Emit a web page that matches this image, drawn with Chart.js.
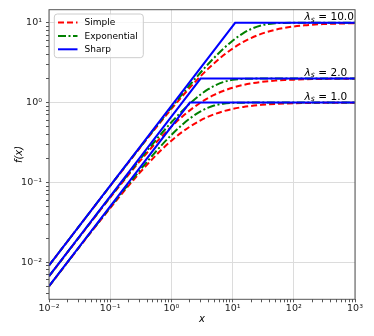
<!DOCTYPE html>
<html><head><meta charset="utf-8">
<script src="https://cdn.jsdelivr.net/npm/chart.js@4.4.0/dist/chart.umd.min.js"></script>
<style>html,body{margin:0;padding:0;background:#fff}#wrap{width:374px;height:336px;position:relative}</style>
</head><body><div id="wrap"><canvas id="c"></canvas></div>
<script>
// ---- data ----
const xValues = [0.01,0.03,0.1,0.2,0.3,0.5,0.7,1,1.5,2,3,4,5,7,10,15,20,30,50,70,100,150,200,300,500,700,1000];
const simple1 = [0.004975,0.01478,0.04762,0.09091,0.1304,0.2,0.2593,0.3333,0.4286,0.5,0.6,0.6667,0.7143,0.7778,0.8333,0.8824,0.9091,0.9375,0.9615,0.9722,0.9804,0.9868,0.9901,0.9934,0.996,0.9972,0.998];
const simple2 = [0.006645,0.0198,0.06452,0.125,0.1818,0.2857,0.3784,0.5,0.6667,0.8,1.0,1.1429,1.25,1.4,1.5385,1.6667,1.7391,1.8182,1.8868,1.9178,1.9417,1.9608,1.9704,1.9802,1.9881,1.9915,1.994];
const simple10 = [0.009083,0.0272,0.09009,0.1786,0.2655,0.4348,0.5983,0.8333,1.2,1.5385,2.1429,2.6667,3.125,3.8889,4.7619,5.7692,6.4516,7.3171,8.1967,8.642,9.009,9.3168,9.4787,9.6463,9.7847,9.8453,9.8912];
const exp1 = [0.004988,0.01489,0.04877,0.09516,0.1393,0.2212,0.2953,0.3935,0.5276,0.6321,0.7769,0.8647,0.9179,0.9698,0.9933,0.9994,0.99995,1,1,1,1,1,1,1,1,1,1];
const exp2 = [0.006656,0.0199,0.06557,0.129,0.1903,0.307,0.4162,0.5669,0.7869,0.9731,1.2642,1.4728,1.6222,1.806,1.9287,1.9865,1.9975,1.9999,2,2,2,2,2,2,2,2,2];
const exp10 = [0.009087,0.02724,0.0905,0.1802,0.269,0.4444,0.6165,0.869,1.2747,1.6625,2.387,3.0479,3.6525,4.7077,5.9711,7.4429,8.3768,9.346,9.8939,9.9828,9.9989,10,10,10,10,10,10];
const sharpX1 = [0.01,2,1000];   const sharpY1 = [0.005,1,1];
const sharpX2 = [0.01,3,1000];   const sharpY2 = [0.006667,2,2];
const sharpX10 = [0.01,11,1000]; const sharpY10 = [0.009091,10,10];
const seriesNames = ['Simple','Exponential','Sharp'];
const lambdas = [1,2,10];
const lambdaLabels = ['1.0','2.0','10.0'];
const annotX = 150;
const xTickValues = [0.01,0.1,1,10,100,1000];
const xTickLabels = ['10⁻²','10⁻¹','10⁰','10¹','10²','10³'];
const yTickValues = [0.01,0.1,1,10];
const yTickLabels = ['10⁻²','10⁻¹','10⁰','10¹'];
const xRange = [0.01,1000];
const yRange = [0.00342,14.62];
const xLabel = 'x';
const yLabel = 'f(x)';

// ---- styles ----
const FONT = 'DejaVu Sans';
const styles = {
  Simple: {color:'#ff0000', dash:[6,3]},
  Exponential: {color:'#008000', dash:[8,2.5,2,2.5]},
  Sharp: {color:'#0000ff', dash:[]}
};
const pts = (xs, ys) => xs.map((x,i)=>({x:x, y:ys[i]}));
function ds(name, data, order){
  const s = styles[name];
  return {label:name, data:data, borderColor:s.color, borderDash:s.dash, borderWidth:2,
    pointRadius:0, fill:false, order:order, cubicInterpolationMode: name==='Sharp'?'default':'monotone',
    tension:0, borderCapStyle:'butt'};
}
const datasets = [
  ds('Simple', pts(xValues, simple1), 3), ds('Exponential', pts(xValues, exp1), 2), ds('Sharp', pts(sharpX1, sharpY1), 1),
  ds('Simple', pts(xValues, simple2), 3), ds('Exponential', pts(xValues, exp2), 2), ds('Sharp', pts(sharpX2, sharpY2), 1),
  ds('Simple', pts(xValues, simple10), 3), ds('Exponential', pts(xValues, exp10), 2), ds('Sharp', pts(sharpX10, sharpY10), 1)
];

function logTicks(min, max){
  const t = [];
  for (let e = Math.floor(Math.log10(min)); e <= Math.ceil(Math.log10(max)); e++){
    for (let m = 1; m <= 9; m++){
      const v = parseFloat((m*Math.pow(10,e)).toPrecision(6));
      if (v >= min*0.9999 && v <= max*1.0001) t.push({value:v});
    }
  }
  return t;
}
function labelFor(v, vals, labels){
  for (let i=0;i<vals.length;i++) if (Math.abs(v/vals[i]-1) < 1e-6) return labels[i];
  return '';
}
const isMajor = v => Math.abs(Math.log10(v) - Math.round(Math.log10(v))) < 1e-6;

const overlay = {
  id:'overlay',
  afterDatasetsDraw(chart){
    const ctx = chart.ctx, a = chart.chartArea, xs = chart.scales.x, ys = chart.scales.y;
    ctx.save();
    // annotations (left-aligned at annotX)
    ctx.fillStyle = '#000';
    ctx.textBaseline = 'alphabetic';
    ctx.textAlign = 'left';
    const fN = '10.5px "'+FONT+'"', fL = 'italic 10.5px "'+FONT+'"', fS = 'italic 7.5px "'+FONT+'"';
    lambdas.forEach((lam,i)=>{
      const left = xs.getPixelForValue(annotX);
      const base = ys.getPixelForValue(lam*1.1) + 0.3;
      ctx.font = fL;
      const wL = ctx.measureText('λ').width;
      ctx.font = fS;
      const wS = ctx.measureText('s').width;
      ctx.font = fN;
      const wEq = ctx.measureText('=').width;
      const gap = 3.5;
      const xS = left + wL;
      const xEq = xS + wS + gap;
      const xNum = xEq + wEq + gap;
      ctx.font = fL; ctx.fillText('λ', left, base);
      ctx.font = fS; ctx.fillText('s', xS, base + 1.8);
      ctx.font = fN; ctx.fillText('=', xEq, base); ctx.fillText(lambdaLabels[i], xNum, base);
    });
    // legend
    const L = {x:54.3, y:14, w:89, h:43.7};
    ctx.beginPath();
    ctx.roundRect(L.x, L.y, L.w, L.h, 3);
    ctx.fillStyle = 'rgba(255,255,255,0.8)';
    ctx.fill();
    ctx.strokeStyle = '#cccccc';
    ctx.lineWidth = 1;
    ctx.stroke();
    const rows = [22.5, 35.9, 49.3];
    seriesNames.forEach((n,i)=>{
      const s = styles[n];
      ctx.beginPath();
      ctx.setLineDash(s.dash);
      ctx.strokeStyle = s.color;
      ctx.lineWidth = 2;
      ctx.moveTo(58, rows[i]); ctx.lineTo(77.5, rows[i]);
      ctx.stroke();
      ctx.setLineDash([]);
      ctx.fillStyle = '#000';
      ctx.font = '9px "'+FONT+'"';
      ctx.textBaseline = 'middle';
      ctx.fillText(n, 84.5, rows[i] + 0.5);
    });
    // frame
    ctx.strokeStyle = '#555';
    ctx.lineWidth = 1;
    ctx.strokeRect(a.left, a.top, a.right - a.left, a.bottom - a.top);
    ctx.restore();
  }
};

const gridColor = c => (c.tick && isMajor(c.tick.value)) ? '#dcdcdc' : 'rgba(0,0,0,0)';
new Chart(document.getElementById('c'), {
  type:'line',
  data:{datasets:datasets},
  options:{
    responsive:true, maintainAspectRatio:false, animation:false,
    layout:{padding:{top:9.7, right:19, left:0, bottom:0}},
    plugins:{legend:{display:false}, tooltip:{enabled:false}},
    scales:{
      x:{type:'logarithmic', min:xRange[0], max:xRange[1],
        afterBuildTicks: s => { s.ticks = logTicks(xRange[0], xRange[1]); },
        afterFit: s => { s.height = 36.7; },
        border:{display:false},
        grid:{color:gridColor, tickColor:'#555', tickLength:3, drawTicks:true, lineWidth:1},
        ticks:{autoSkip:false, maxRotation:0, padding:1, color:'#222', font:{family:FONT, size:9.5},
          callback: v => labelFor(v, xTickValues, xTickLabels)},
        title:{display:true, text:xLabel, color:'#000', font:{family:FONT, size:10, style:'italic'}, padding:{top:0,bottom:11}}
      },
      y:{type:'logarithmic', min:yRange[0], max:yRange[1],
        afterBuildTicks: s => { s.ticks = logTicks(yRange[0], yRange[1]); },
        afterFit: s => { s.width = 49; },
        border:{display:false},
        grid:{color:gridColor, tickColor:'#555', tickLength:3, drawTicks:true, lineWidth:1},
        ticks:{autoSkip:false, padding:4, color:'#222', font:{family:FONT, size:9.5},
          callback: v => labelFor(v, yTickValues, yTickLabels)},
        title:{display:true, text:yLabel, color:'#000', font:{family:FONT, size:10, style:'italic'}, padding:{top:13,bottom:0}}
      }
    }
  },
  plugins:[overlay]
});
</script></body></html>
